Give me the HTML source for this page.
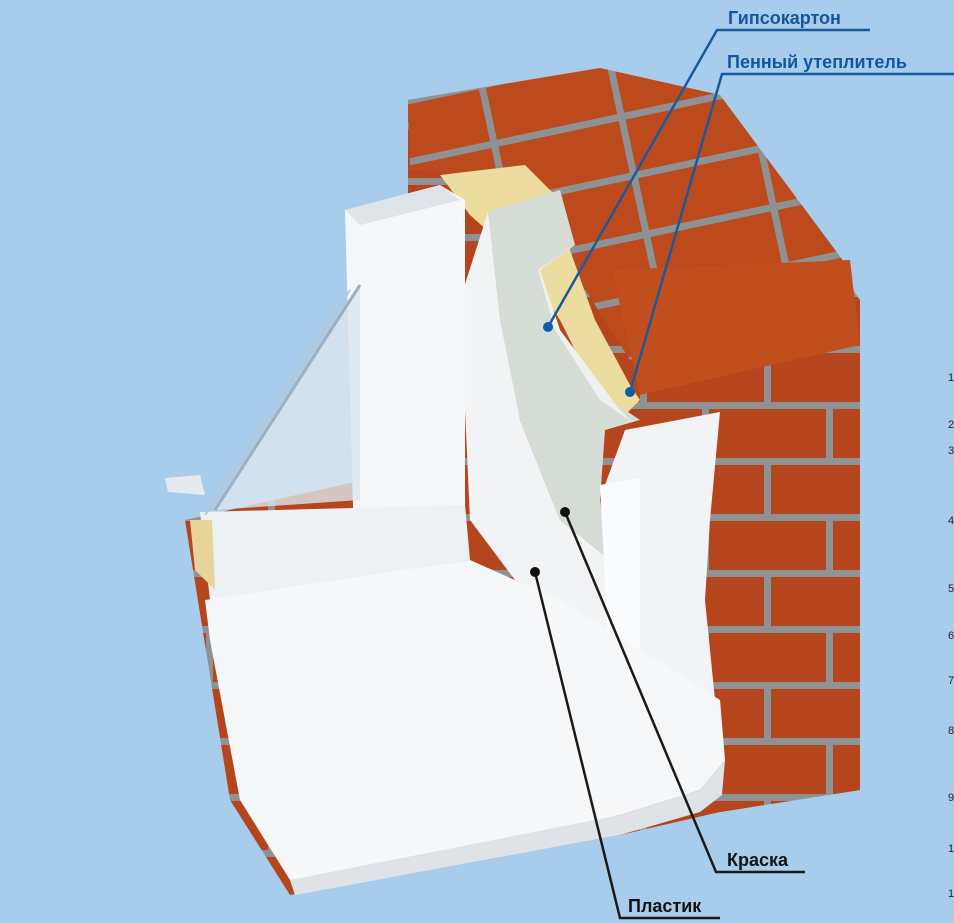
<!DOCTYPE html>
<html><head><meta charset="utf-8"><style>
html,body{margin:0;padding:0;background:#a8cdec;}
svg{display:block}
</style></head><body>
<svg width="954" height="923" viewBox="0 0 954 923" xmlns="http://www.w3.org/2000/svg">
<defs>
<pattern id="br" width="124" height="112" patternUnits="userSpaceOnUse" patternTransform="translate(0,10)">
<rect width="124" height="112" fill="#b4451c"/>
<rect y="0" width="124" height="7" fill="#8f9295"/>
<rect y="56" width="124" height="7" fill="#8f9295"/>
<rect x="20" y="0" width="7" height="56" fill="#8f9295"/>
<rect x="82" y="56" width="7" height="56" fill="#8f9295"/>
</pattern>
<pattern id="brt" width="130" height="60" patternUnits="userSpaceOnUse" patternTransform="rotate(-12)">
<rect width="130" height="60" fill="#bd4a1c"/>
<rect width="130" height="7" fill="#8f9295"/>
<rect x="60" width="7" height="60" fill="#8f9295"/>
</pattern>
</defs>
<rect width="954" height="923" fill="#a8cdec"/>
<polygon points="408,100 600,68 720,95 860,300 860,790 720,812 620,835 420,872 290,895 230,800 185,520 408,470" fill="url(#br)"/>
<polygon points="408,100 600,68 720,95 850,270 630,360 560,250 520,180 410,170" fill="url(#brt)"/>
<polygon points="612,270 850,260 860,345 640,395" fill="#c14e1d"/>
<polygon points="640,395 860,345 860,790 720,812 720,430" fill="url(#br)" opacity="0.9"/>
<polygon points="440,175 525,165 560,200 570,250 595,320 630,385 640,400 620,420 590,380 560,320 520,260 470,215" fill="#ecdca0"/>
<polygon points="488,212 560,190 575,245 540,270 560,330 610,400 640,420 605,430 600,500 610,560 560,520 520,420 495,320" fill="#d6ddd6"/>
<polygon points="575,245 540,270 560,330 620,410 632,422 600,400 555,330 538,270" fill="#eef1ee"/>
<polygon points="488,212 500,320 520,420 560,520 610,560 605,485 625,430 720,412 710,520 705,600 715,700 640,705 560,640 470,520 460,300" fill="#f1f3f5"/>
<polygon points="600,485 640,478 640,705 610,680" fill="#fbfcfd"/>
<polygon points="345,210 440,185 465,200 465,560 380,575 355,580" fill="#f4f6f8"/>
<polygon points="345,210 440,185 460,200 360,225" fill="#dfe4e8"/>
<polygon points="200,512 465,505 470,560 210,600" fill="#eef1f4"/>
<polygon points="360,285 360,500 215,510" fill="#dbe6ee" opacity="0.8"/>
<line x1="360" y1="285" x2="215" y2="510" stroke="#9fb0bc" stroke-width="3"/>
<line x1="350" y1="290" x2="205" y2="515" stroke="#b9c6d0" stroke-width="2"/>
<polygon points="165,478 200,475 205,495 168,492" fill="#e6eaee"/>
<polygon points="190,520 212,520 215,590 195,570" fill="#e7d49a"/>
<polygon points="205,600 470,560 560,600 720,700 725,760 700,790 620,815 420,860 290,880 240,800 210,640" fill="#f6f7f9"/>
<polygon points="290,880 620,815 700,790 725,760 722,795 700,812 620,835 420,872 295,895" fill="#dfe3e7"/>
<g stroke="#1a5a9c" stroke-width="2.5" fill="none">
<polyline points="870,30 717,30 548,327"/>
<polyline points="954,74 722,74 630,392"/>
</g>
<circle cx="548" cy="327" r="5" fill="#125ba8"/>
<circle cx="630" cy="392" r="5" fill="#125ba8"/>
<g stroke="#1a1a1a" stroke-width="2.5" fill="none">
<polyline points="805,872 716,872 565,512"/>
<polyline points="720,918 620,918 535,572"/>
</g>
<circle cx="565" cy="512" r="5" fill="#111"/>
<circle cx="535" cy="572" r="5" fill="#111"/>
<g font-family="Liberation Sans, sans-serif" font-weight="bold" font-size="18">
<text x="728" y="24" fill="#14569c">Гипсокартон</text>
<text x="727" y="68" fill="#14569c">Пенный утеплитель</text>
<text x="727" y="866" fill="#111">Краска</text>
<text x="628" y="912" fill="#111">Пластик</text>
</g>
<g font-family="Liberation Sans, sans-serif" font-size="11" fill="#222">
<text x="948" y="381">1</text><text x="948" y="428">2</text><text x="948" y="454">3</text>
<text x="948" y="524">4</text><text x="948" y="592">5</text><text x="948" y="639">6</text>
<text x="948" y="684">7</text><text x="948" y="734">8</text><text x="948" y="801">9</text>
<text x="948" y="852">1</text><text x="948" y="897">1</text>
</g>
</svg>
</body></html>
